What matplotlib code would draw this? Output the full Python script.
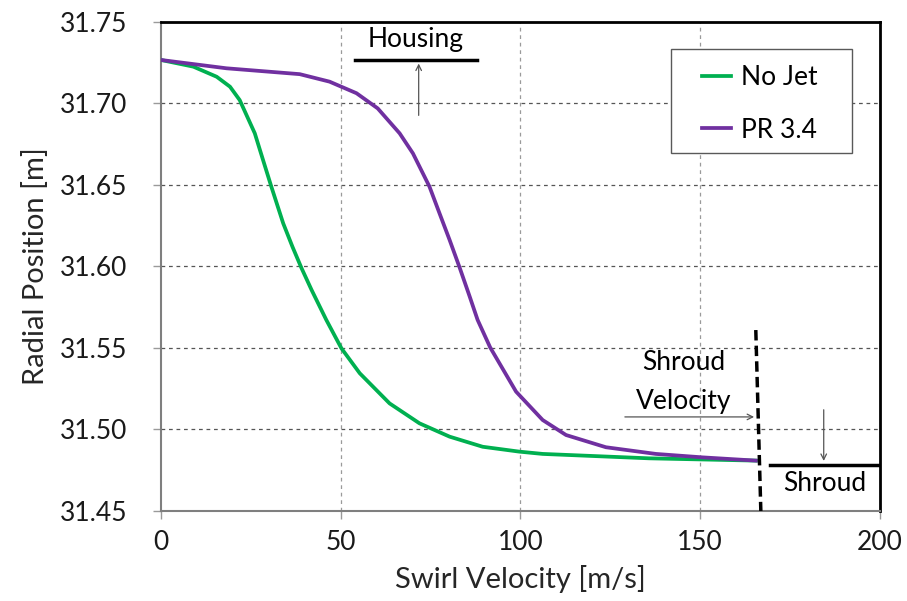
import matplotlib.pyplot as plt
from matplotlib.patches import Rectangle
from matplotlib.ticker import MultipleLocator, FormatStrFormatter

plt.rcParams['font.family'] = ['Lato', 'DejaVu Sans']

# No Jet curve (swirl velocity [m/s], radial position [m])
nojet_v = [0.0, 9.0, 15.5, 19.2, 21.9, 26.1, 28.4, 30.7, 34.0, 36.6, 39.1, 41.9,
           46.0, 50.2, 55.3, 63.6, 71.9, 80.3, 89.5, 99.7, 106.2, 135.8, 165.5]
nojet_r = [31.7267, 31.7226, 31.7164, 31.7103, 31.7021, 31.6817, 31.6653, 31.649,
           31.6265, 31.612, 31.599, 31.5856, 31.5672, 31.5498, 31.5345, 31.516,
           31.5038, 31.4956, 31.4894, 31.4864, 31.485, 31.4823, 31.4809]

# PR 3.4 curve
pr_v = [0.0, 18.2, 38.6, 46.9, 54.4, 60.3, 66.4, 70.1, 74.7, 77.5, 80.3, 83.1,
        85.9, 88.1, 91.6, 98.8, 106.2, 112.7, 123.8, 137.7, 150.6, 165.5]
pr_r = [31.7267, 31.7216, 31.7180, 31.7134, 31.7063, 31.697, 31.6817, 31.6694,
        31.649, 31.6326, 31.6163, 31.5993, 31.5815, 31.5672, 31.5503, 31.5232,
        31.5058, 31.4966, 31.4891, 31.485, 31.4829, 31.4809]

fig = plt.figure(figsize=(9.07, 6.01), dpi=100)
ax = fig.add_axes([0.1775, 0.1498, 0.7925, 0.8136])

ax.plot(nojet_v, nojet_r, color='#00B050', lw=2.7, label='No Jet', zorder=3,
        solid_joinstyle='round')
ax.plot(pr_v, pr_r, color='#7030A0', lw=2.7, label='PR 3.4', zorder=3,
        solid_joinstyle='round')

ax.set_xlim(0, 200)
ax.set_ylim(31.45, 31.75)
ax.xaxis.set_major_locator(MultipleLocator(50))
ax.yaxis.set_major_locator(MultipleLocator(0.05))
ax.yaxis.set_major_formatter(FormatStrFormatter('%.2f'))

# grid
for y in [31.50, 31.55, 31.60, 31.65, 31.70]:
    ax.axhline(y, color='#555555', lw=0.9, ls=(0, (3, 3)), zorder=1)
for x in [50, 100, 150]:
    ax.axvline(x, color='#9a9a9a', lw=0.9, ls=(0, (3, 3)), zorder=1)

for s in ['left', 'bottom']:
    ax.spines[s].set_color('#7f7f7f')
    ax.spines[s].set_linewidth(1.5)
for s in ['top', 'right']:
    ax.spines[s].set_color('black')
    ax.spines[s].set_linewidth(2)
ax.tick_params(axis='both', direction='out', length=6, width=1, color='#9a9a9a',
               labelsize=19, labelcolor='#1a1a1a')
ax.tick_params(axis='y', pad=18)
ax.tick_params(axis='x', pad=8)

ax.set_xlabel('Swirl Velocity [m/s]', fontsize=21, labelpad=7, color='#262626')
ax.set_ylabel('Radial Position [m]', fontsize=21, labelpad=8, color='#262626')

# Housing annotation
ax.plot([53.9, 87.8], [31.7267, 31.7267], color='black', lw=2.5, zorder=4)
ax.text(70.8, 31.7395, 'Housing', ha='center', va='center', fontsize=19)
ax.annotate('', xy=(71.7, 31.7262), xytext=(71.7, 31.691),
            arrowprops=dict(arrowstyle='->', color='#555555', lw=0.9))

# Shroud velocity
ax.plot([165.5, 166.9], [31.561, 31.45], color='black', lw=2.5, ls=(0, (3, 1.5)),
        zorder=4, clip_on=False)
ax.text(145.5, 31.5408, 'Shroud', ha='center', va='center', fontsize=19)
ax.text(145.5, 31.5169, 'Velocity', ha='center', va='center', fontsize=19)
ax.annotate('', xy=(165.8, 31.5077), xytext=(128.3, 31.5077),
            arrowprops=dict(arrowstyle='->', color='#555555', lw=0.9))

# Shroud
ax.plot([169.4, 199.4], [31.4782, 31.4782], color='black', lw=2.5, zorder=4)
ax.text(184.7, 31.4666, 'Shroud', ha='center', va='center', fontsize=19)
ax.annotate('', xy=(184.4, 31.4790), xytext=(184.4, 31.5138),
            arrowprops=dict(arrowstyle='->', color='#555555', lw=0.9))

# legend: frame drawn separately so the side padding can be wider than top/bottom
ax.add_patch(Rectangle((0.7093, 0.7321), 0.2517, 0.2127, transform=ax.transAxes,
                       facecolor='white', edgecolor='#595959', lw=1.0, zorder=5))
leg = ax.legend(loc='upper left', bbox_to_anchor=(0.752, 0.912), fontsize=19,
                frameon=False, handlelength=1.1, handletextpad=0.4,
                borderpad=0, labelspacing=1.05, borderaxespad=0)
leg.set_zorder(6)

plt.savefig('out.png', dpi=100)
